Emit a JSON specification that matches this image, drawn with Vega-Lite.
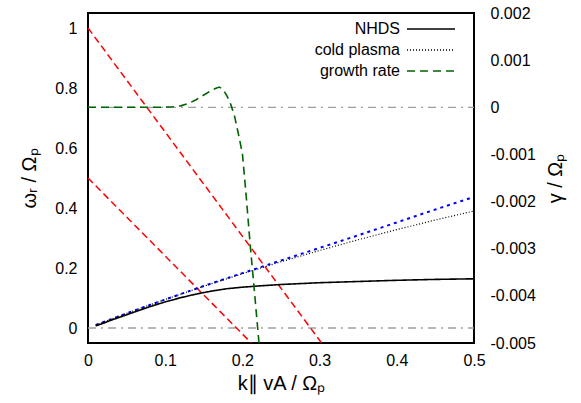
{
  "$schema": "https://vega.github.io/schema/vega-lite/v6.json",
  "width": 386,
  "height": 330,
  "autosize": {"type": "none"},
  "padding": {"left": 88, "top": 13, "right": 107, "bottom": 60},
  "background": "white",
  "config": {
    "view": {"stroke": "black", "strokeWidth": 2},
    "font": "Liberation Sans",
    "axis": {
      "domain": false,
      "ticks": false,
      "grid": false,
      "labelFont": "Liberation Sans",
      "labelFontSize": 16,
      "labelColor": "black",
      "labelFlush": false,
      "labelOverlap": false,
      "titleFont": "Liberation Sans",
      "titleFontSize": 20,
      "titleFontWeight": "normal",
      "titleColor": "black"
    }
  },
  "layer": [
    {
      "encoding": {
        "x": {
          "field": "k",
          "type": "quantitative",
          "scale": {"domain": [0, 0.5], "nice": false, "zero": false},
          "axis": {
            "orient": "bottom",
            "values": [0, 0.1, 0.2, 0.3, 0.4, 0.5],
            "format": ".1~f",
            "labelPadding": 9,
            "title": "k∥ vA / Ωₚ",
            "titlePadding": 5
          }
        },
        "y": {
          "field": "w",
          "type": "quantitative",
          "scale": {"domain": [-0.05, 1.05], "nice": false, "zero": false},
          "axis": {
            "orient": "left",
            "values": [0, 0.2, 0.4, 0.6, 0.8, 1],
            "format": ".1~f",
            "labelPadding": 11,
            "title": "ωᵣ / Ωₚ",
            "titlePadding": 15
          }
        }
      },
      "layer": [
        {
          "data": {"values": [{"w": 0}, {"w": 0.2}, {"w": 0.4}, {"w": 0.6}, {"w": 0.8}, {"w": 1}]},
          "mark": {"type": "rule", "color": "#000000", "strokeWidth": 1.5},
          "encoding": {"x": {"datum": 0}, "x2": {"datum": 0.009}}
        },
        {
          "data": {"values": [{"k": 0.1}, {"k": 0.2}, {"k": 0.3}, {"k": 0.4}]},
          "mark": {"type": "rule", "color": "#000000", "strokeWidth": 1.5},
          "encoding": {"y": {"datum": -0.05}, "y2": {"datum": -0.0265}}
        },
        {
          "data": {"values": [{"k": 0, "w": 0}, {"k": 0.5, "w": 0}]},
          "mark": {"type": "line", "color": "#a0a0a0", "strokeWidth": 1.3, "strokeDash": [8, 5, 2, 5]}
        },
        {
          "data": {"values": [
            {"seg": "a", "k": 0, "w": 1},
            {"seg": "a", "k": 0.3026, "w": -0.05},
            {"seg": "b", "k": 0, "w": 0.5},
            {"seg": "b", "k": 0.2115, "w": -0.05}
          ]},
          "mark": {"type": "line", "color": "#ff0000", "strokeWidth": 1.5, "strokeDash": [7, 4], "clip": true},
          "encoding": {"detail": {"field": "seg"}}
        },
        {
          "data": {"values": [
            {"k": 0.01, "w": 0.0099}, {"k": 0.05, "w": 0.0488}, {"k": 0.1, "w": 0.0951},
            {"k": 0.13, "w": 0.122}, {"k": 0.15, "w": 0.14}, {"k": 0.2, "w": 0.183},
            {"k": 0.25, "w": 0.225}, {"k": 0.3, "w": 0.267}, {"k": 0.35, "w": 0.309},
            {"k": 0.4, "w": 0.352}, {"k": 0.45, "w": 0.395}, {"k": 0.5, "w": 0.437}
          ]},
          "mark": {"type": "line", "color": "#0000ff", "strokeWidth": 2, "strokeDash": [3, 4]}
        },
        {
          "data": {"values": [
            {"series": "cold plasma", "k": 0.01, "w": 0.00995},
            {"series": "cold plasma", "k": 0.025, "w": 0.0247},
            {"series": "cold plasma", "k": 0.05, "w": 0.0488},
            {"series": "cold plasma", "k": 0.075, "w": 0.0722},
            {"series": "cold plasma", "k": 0.1, "w": 0.0951},
            {"series": "cold plasma", "k": 0.15, "w": 0.1392},
            {"series": "cold plasma", "k": 0.2, "w": 0.181},
            {"series": "cold plasma", "k": 0.25, "w": 0.2207},
            {"series": "cold plasma", "k": 0.3, "w": 0.2584},
            {"series": "cold plasma", "k": 0.35, "w": 0.2941},
            {"series": "cold plasma", "k": 0.4, "w": 0.3279},
            {"series": "cold plasma", "k": 0.45, "w": 0.36},
            {"series": "cold plasma", "k": 0.5, "w": 0.39}
          ]},
          "mark": {"type": "line", "strokeWidth": 1.2},
          "encoding": {
            "color": {"field": "series", "type": "nominal",
              "scale": {"domain": ["NHDS", "cold plasma", "growth rate"], "range": ["#000000", "#000000", "#006400"]},
              "legend": {"orient": "none", "legendX": 334, "legendY": 7, "title": null, "symbolType": "M-3,0H3", "symbolSize": 256, "symbolStrokeWidth": 1.5, "labelAlign": "right", "labelOffset": -40, "labelFontSize": 16, "labelColor": "black", "rowPadding": 4, "padding": 0}},
            "strokeDash": {"field": "series", "type": "nominal",
              "scale": {"domain": ["NHDS", "cold plasma", "growth rate"], "range": [[1, 0], [1, 2], [8, 5]]},
              "legend": {"orient": "none", "legendX": 334, "legendY": 7, "title": null, "symbolType": "M-3,0H3", "symbolSize": 256, "symbolStrokeWidth": 1.5, "labelAlign": "right", "labelOffset": -40, "labelFontSize": 16, "labelColor": "black", "rowPadding": 4, "padding": 0}}
          }
        },
        {
          "data": {"values": [
            {"series": "NHDS", "k": 0.01, "w": 0.007},
            {"series": "NHDS", "k": 0.02, "w": 0.016},
            {"series": "NHDS", "k": 0.03, "w": 0.026},
            {"series": "NHDS", "k": 0.04, "w": 0.035},
            {"series": "NHDS", "k": 0.06, "w": 0.053},
            {"series": "NHDS", "k": 0.08, "w": 0.071},
            {"series": "NHDS", "k": 0.1, "w": 0.087},
            {"series": "NHDS", "k": 0.12, "w": 0.101},
            {"series": "NHDS", "k": 0.14, "w": 0.113},
            {"series": "NHDS", "k": 0.16, "w": 0.123},
            {"series": "NHDS", "k": 0.18, "w": 0.131},
            {"series": "NHDS", "k": 0.2, "w": 0.136},
            {"series": "NHDS", "k": 0.22, "w": 0.14},
            {"series": "NHDS", "k": 0.25, "w": 0.145},
            {"series": "NHDS", "k": 0.3, "w": 0.151},
            {"series": "NHDS", "k": 0.35, "w": 0.155},
            {"series": "NHDS", "k": 0.4, "w": 0.159},
            {"series": "NHDS", "k": 0.45, "w": 0.162},
            {"series": "NHDS", "k": 0.5, "w": 0.164}
          ]},
          "mark": {"type": "line", "strokeWidth": 1.6},
          "encoding": {
            "color": {"field": "series", "type": "nominal",
              "scale": {"domain": ["NHDS", "cold plasma", "growth rate"], "range": ["#000000", "#000000", "#006400"]},
              "legend": {"orient": "none", "legendX": 334, "legendY": 7, "title": null, "symbolType": "M-3,0H3", "symbolSize": 256, "symbolStrokeWidth": 1.5, "labelAlign": "right", "labelOffset": -40, "labelFontSize": 16, "labelColor": "black", "rowPadding": 4, "padding": 0}},
            "strokeDash": {"field": "series", "type": "nominal",
              "scale": {"domain": ["NHDS", "cold plasma", "growth rate"], "range": [[1, 0], [1, 2], [8, 5]]},
              "legend": {"orient": "none", "legendX": 334, "legendY": 7, "title": null, "symbolType": "M-3,0H3", "symbolSize": 256, "symbolStrokeWidth": 1.5, "labelAlign": "right", "labelOffset": -40, "labelFontSize": 16, "labelColor": "black", "rowPadding": 4, "padding": 0}}
          }
        }
      ]
    },
    {
      "encoding": {
        "x": {
          "field": "k",
          "type": "quantitative",
          "scale": {"domain": [0, 0.5], "nice": false, "zero": false},
          "axis": null
        },
        "y": {
          "field": "g",
          "type": "quantitative",
          "scale": {"domain": [-0.005, 0.002], "nice": false, "zero": false},
          "axis": {
            "orient": "right",
            "values": [-0.005, -0.004, -0.003, -0.002, -0.001, 0, 0.001, 0.002],
            "labelExpr": "replace(format(datum.value, '.3~f'), '\u2212', '-')",
            "labelPadding": 16,
            "title": "γ / Ωₚ",
            "titleAngle": 270,
            "titleBaseline": "top",
            "titlePadding": 10
          }
        }
      },
      "layer": [
        {
          "data": {"values": [{"g": -0.004}, {"g": -0.003}, {"g": -0.002}, {"g": -0.001}, {"g": 0}, {"g": 0.001}]},
          "mark": {"type": "rule", "color": "#000000", "strokeWidth": 1.5},
          "encoding": {"x": {"datum": 0.5}, "x2": {"datum": 0.491}}
        },
        {
          "data": {"values": [{"k": 0.1}, {"k": 0.2}, {"k": 0.3}, {"k": 0.4}]},
          "mark": {"type": "rule", "color": "#000000", "strokeWidth": 1.5},
          "encoding": {"y": {"datum": 0.002}, "y2": {"datum": 0.00185}}
        },
        {
          "data": {"values": [{"k": 0, "g": 0}, {"k": 0.5, "g": 0}]},
          "mark": {"type": "line", "color": "#a0a0a0", "strokeWidth": 1.3, "strokeDash": [8, 5, 2, 5]}
        },
        {
          "data": {"values": [
            {"series": "growth rate", "k": 0, "g": 0},
            {"series": "growth rate", "k": 0.05, "g": 0},
            {"series": "growth rate", "k": 0.1, "g": 0.000002},
            {"series": "growth rate", "k": 0.11, "g": 0.00001},
            {"series": "growth rate", "k": 0.12, "g": 0.00003},
            {"series": "growth rate", "k": 0.13, "g": 0.00008},
            {"series": "growth rate", "k": 0.14, "g": 0.00016},
            {"series": "growth rate", "k": 0.15, "g": 0.00026},
            {"series": "growth rate", "k": 0.16, "g": 0.00036},
            {"series": "growth rate", "k": 0.165, "g": 0.0004},
            {"series": "growth rate", "k": 0.17, "g": 0.00043},
            {"series": "growth rate", "k": 0.175, "g": 0.00038},
            {"series": "growth rate", "k": 0.18, "g": 0.00024},
            {"series": "growth rate", "k": 0.185, "g": 0.00006},
            {"series": "growth rate", "k": 0.19, "g": -0.0002},
            {"series": "growth rate", "k": 0.195, "g": -0.00058},
            {"series": "growth rate", "k": 0.2, "g": -0.00098},
            {"series": "growth rate", "k": 0.205, "g": -0.0019},
            {"series": "growth rate", "k": 0.21, "g": -0.0029},
            {"series": "growth rate", "k": 0.215, "g": -0.0038},
            {"series": "growth rate", "k": 0.2215, "g": -0.005}
          ]},
          "mark": {"type": "line", "strokeWidth": 1.6},
          "encoding": {
            "color": {"field": "series", "type": "nominal",
              "scale": {"domain": ["NHDS", "cold plasma", "growth rate"], "range": ["#000000", "#000000", "#006400"]},
              "legend": {"orient": "none", "legendX": 334, "legendY": 7, "title": null, "symbolType": "M-3,0H3", "symbolSize": 256, "symbolStrokeWidth": 1.5, "labelAlign": "right", "labelOffset": -40, "labelFontSize": 16, "labelColor": "black", "rowPadding": 4, "padding": 0}},
            "strokeDash": {"field": "series", "type": "nominal",
              "scale": {"domain": ["NHDS", "cold plasma", "growth rate"], "range": [[1, 0], [1, 2], [8, 5]]},
              "legend": {"orient": "none", "legendX": 334, "legendY": 7, "title": null, "symbolType": "M-3,0H3", "symbolSize": 256, "symbolStrokeWidth": 1.5, "labelAlign": "right", "labelOffset": -40, "labelFontSize": 16, "labelColor": "black", "rowPadding": 4, "padding": 0}}
          }
        }
      ]
    }
  ],
  "resolve": {"scale": {"y": "independent"}, "axis": {"x": "independent", "y": "independent"}}
}
